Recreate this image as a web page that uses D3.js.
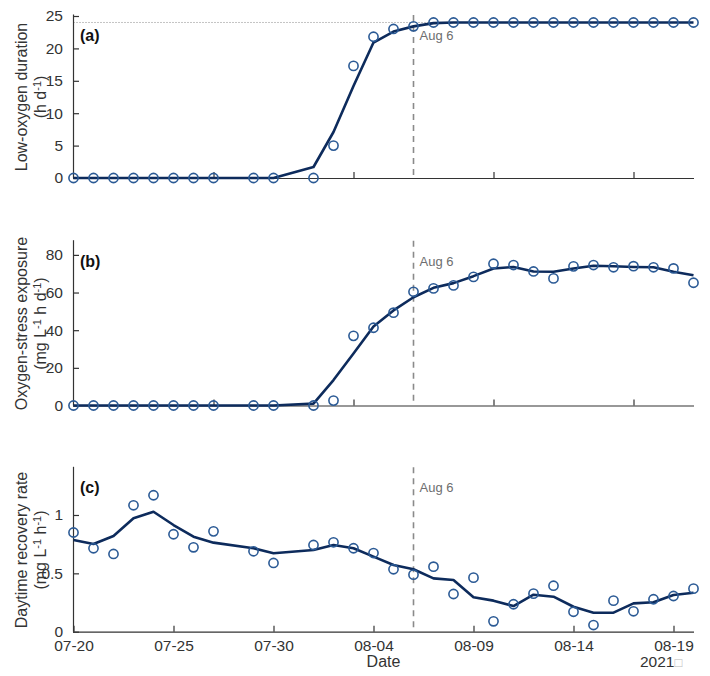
<!DOCTYPE html>
<html>
<head>
<meta charset="utf-8">
<script src="https://cdn.jsdelivr.net/npm/d3@7"></script>
<style>
    body { margin: 0; background: #fff; }
    text { font-family: "Liberation Sans", Arial, sans-serif; }
</style>
</head>
<body>
<svg id="chart" width="710" height="676"></svg>
<script>
// day offsets from 2021-07-20 (07-28 and 07-31 are missing)
const days = [0, 1, 2, 3, 4, 5, 6, 7, 9, 10, 12, 13, 14, 15, 16, 17, 18, 19, 20, 21, 22, 23, 24, 25, 26, 27, 28, 29, 30, 31]

const durationObs = [0, 0, 0, 0, 0, 0, 0, 0, 0, 0, 0, 5.0, 17.3, 21.8, 23.0, 23.4, 24, 24, 24, 24, 24, 24, 24, 24, 24, 24, 24, 24, 24, 24]
const durationFit = [0, 0, 0, 0, 0, 0, 0, 0, 0, 0, 1.7, 7.1, 14.2, 20.9, 22.6, 23.4, 23.9, 24, 24, 24, 24, 24, 24, 24, 24, 24, 24, 24, 24, 24]

const stressObs = [0, 0, 0, 0, 0, 0, 0, 0, 0, 0, 0, 2.6, 37.0, 41.3, 49.3, 60.4, 62.2, 63.8, 68.3, 75.3, 74.6, 71.2, 67.5, 73.9, 74.6, 73.4, 74.0, 73.4, 72.8, 65.2]
const stressFit = [0, 0, 0, 0, 0, 0, 0, 0, 0, 0, 1.0, 13.5, 27.6, 42.0, 50.5, 57.5, 62.5, 65.0, 68.7, 72.8, 73.6, 71.2, 71.0, 72.8, 74.2, 74.0, 73.6, 73.4, 71.0, 69.2]

const recoveryObs = [0.85, 0.715, 0.666, 1.083, 1.169, 0.835, 0.723, 0.86, 0.689, 0.589, 0.743, 0.766, 0.715, 0.674, 0.535, 0.489, 0.557, 0.323, 0.463, 0.089, 0.235, 0.326, 0.394, 0.171, 0.057, 0.266, 0.175, 0.278, 0.306, 0.369]
const recoveryFit = [0.785, 0.751, 0.82, 0.972, 1.028, 0.914, 0.814, 0.763, 0.715, 0.672, 0.70, 0.743, 0.715, 0.643, 0.572, 0.535, 0.457, 0.443, 0.295, 0.266, 0.22, 0.317, 0.30, 0.214, 0.163, 0.163, 0.243, 0.252, 0.315, 0.334]

const panels = [
    {tag: '(a)', title: 'Low-oxygen duration', unit: ['(h d', '-1', ')'], obs: durationObs, fit: durationFit,
        domain: [0, 25], ticks: [0, 5, 10, 15, 20, 25], top: 16, bottom: 178, ref: 24},
    {tag: '(b)', title: 'Oxygen-stress exposure', unit: ['(mg L', '-1', ' h d', '-1', ')'], obs: stressObs, fit: stressFit,
        domain: [0, 87], ticks: [0, 20, 40, 60, 80], top: 241.7, bottom: 405.5},
    {tag: '(c)', title: 'Daytime recovery rate', unit: ['(mg L', '-1', ' h', '-1', ')'], obs: recoveryObs, fit: recoveryFit,
        domain: [0, 1.4], ticks: [0, 0.5, 1], tickFmt: d3.format('~g'), top: 468.3, bottom: 631.7, labelled: true}
]

const start = new Date(Date.UTC(2021, 6, 20))
const dayDate = d => d3.utcDay.offset(start, d)
const markerDay = 17 // Aug 6

const lineColor = '#0d2b5c'
const dotColor = '#2b5a95'
const axisColor = '#333'

const svg = d3.select('#chart')

const x = d3.scaleUtc()
    .domain([start, dayDate(31)])
    .range([73.5, 693.5])

const drawPanel = p => {
    const y = d3.scaleLinear()
        .domain(p.domain)
        .range([p.bottom, p.top])
    const g = svg.append('g')

    // horizontal reference at 24 h
    if (p.ref != null)
        g.append('line')
            .attr('x1', x.range()[0]).attr('x2', x.range()[1])
            .attr('y1', y(p.ref)).attr('y2', y(p.ref))
            .attr('stroke', '#888').attr('stroke-width', 1)
            .attr('stroke-dasharray', '1,2')

    // Aug 6 marker
    g.append('line')
        .attr('x1', x(dayDate(markerDay))).attr('x2', x(dayDate(markerDay)))
        .attr('y1', p.top - 1).attr('y2', p.bottom)
        .attr('stroke', '#8a8a8a').attr('stroke-width', 1.6)
        .attr('stroke-dasharray', '6,5')
    g.append('text')
        .attr('x', x(dayDate(markerDay)) + 6)
        .attr('y', p.top + 24)
        .attr('font-size', 13)
        .attr('fill', '#6e6e6e')
        .text('Aug 6')

    // x axis: weekly unlabeled ticks in (a),(b), 5-day labels in (c)
    const xAxis = p.labelled
        ? d3.axisBottom(x).tickValues(d3.range(0, 31, 5).map(dayDate)).tickFormat(d3.utcFormat('%m-%d'))
        : d3.axisBottom(x).tickValues([7, 14, 21, 28].map(dayDate)).tickFormat('')
    const xg = g.append('g')
        .attr('transform', `translate(0,${p.bottom})`)
        .call(xAxis.tickSizeInner(-6).tickSizeOuter(0).tickPadding(8))
    xg.select('.domain').attr('d', `M73,0.5H694`)

    const yg = g.append('g')
        .attr('transform', 'translate(73,0)')
        .call(d3.axisLeft(y).tickValues(p.ticks).tickFormat(p.tickFmt || d3.format('d'))
            .tickSizeInner(-6).tickSizeOuter(0).tickPadding(10))
    yg.select('.domain').attr('d', `M0.5,${p.bottom}V${p.top - 1.5}`)

    ;[xg, yg].forEach(a => {
        a.select('.domain').attr('stroke', axisColor).attr('stroke-width', 1.2)
        a.selectAll('.tick line').attr('stroke', axisColor).attr('stroke-width', 1.2)
        a.selectAll('.tick text').attr('fill', axisColor).attr('font-size', 15.5)
            .attr('font-family', '"Liberation Sans", Arial, sans-serif')
    })

    // fitted line
    const pts = days.map((d, i) => ({d, o: p.obs[i], f: p.fit[i]}))
    g.append('path')
        .datum(pts)
        .attr('fill', 'none')
        .attr('stroke', lineColor)
        .attr('stroke-width', 2.6)
        .attr('stroke-linejoin', 'round')
        .attr('d', d3.line().x(q => x(dayDate(q.d))).y(q => y(q.f)))

    // observations
    g.selectAll('circle')
        .data(pts)
        .join('circle')
        .attr('cx', q => x(dayDate(q.d)))
        .attr('cy', q => y(q.o))
        .attr('r', 4.6)
        .attr('fill', 'none')
        .attr('stroke', dotColor)
        .attr('stroke-width', 1.6)

    g.append('text')
        .attr('x', 80).attr('y', p.top + 25)
        .attr('font-size', 16).attr('font-weight', 'bold')
        .attr('fill', '#111')
        .text(p.tag)

    // y label, two lines
    const cy = (p.top + p.bottom) / 2
    g.append('text')
        .attr('transform', `translate(27,${cy}) rotate(-90)`)
        .attr('text-anchor', 'middle')
        .attr('font-size', 16).attr('fill', axisColor)
        .text(p.title)
    const unit = g.append('text')
        .attr('transform', `translate(46,${cy}) rotate(-90)`)
        .attr('text-anchor', 'middle')
        .attr('font-size', 16).attr('fill', axisColor)
    p.unit.forEach(s => {
        const sup = s.startsWith('-')
        unit.append('tspan')
            .attr('baseline-shift', sup ? '45%' : null)
            .attr('font-size', sup ? 11 : null)
            .text(s)
    })
}

panels.forEach(drawPanel)

svg.append('text')
    .attr('x', 383.5).attr('y', 667)
    .attr('text-anchor', 'middle')
    .attr('font-size', 16).attr('fill', axisColor)
    .text('Date')

const yr = svg.append('text')
    .attr('x', 640).attr('y', 667)
    .attr('font-size', 15.5).attr('fill', axisColor)
yr.append('tspan').text('2021')
yr.append('tspan').attr('fill', '#bbb').attr('font-size', 13).text('□')
</script>
</body>
</html>
